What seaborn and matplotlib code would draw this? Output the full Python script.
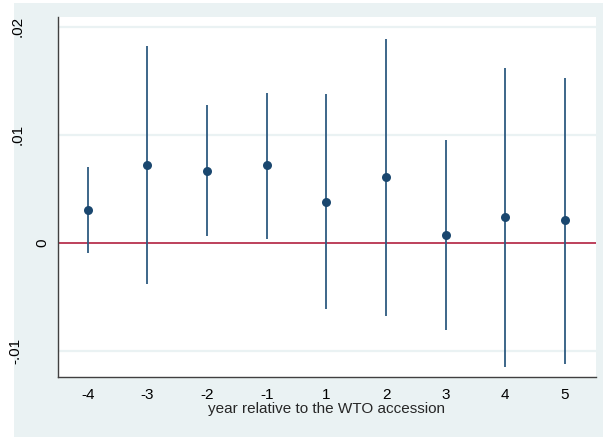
import matplotlib
matplotlib.use("Agg")
import matplotlib.pyplot as plt
import matplotlib.transforms as mtransforms
from matplotlib.patches import Rectangle
import seaborn as sns
import pandas as pd
import numpy as np

years = ["-4", "-3", "-2", "-1", "1", "2", "3", "4", "5"]
coef = [0.00303, 0.0072, 0.00667, 0.0072, 0.0038, 0.00605, 0.00068, 0.00234, 0.0021]
ci_low = [-0.00096, -0.0038, 0.00058, 0.00037, -0.00614, -0.00682, -0.0081, -0.01154, -0.01123]
ci_high = [0.00697, 0.01818, 0.01278, 0.01386, 0.01377, 0.01886, 0.00951, 0.01617, 0.01528]
yticks = [-0.01, 0, 0.01, 0.02]
ytick_labels = ["-.01", "0", ".01", ".02"]
xlabel = "year relative to the WTO accession"

# layout only: baseline x (pixels) of each rotated y tick label
ylabel_baseline_px = [19.5, 46, 22, 22]

df = pd.DataFrame({"year": years, "coef": coef, "lo": ci_low, "hi": ci_high})

sns.set_style("white")
plt.rcParams["font.family"] = ["Liberation Sans", "DejaVu Sans"]

W, H = 603, 437
bg = "#EAF2F3"
fig = plt.figure(figsize=(W / 100, H / 100), dpi=100, facecolor="white")
bgrect = Rectangle((14 / W, 0), 1 - 14 / W, 1 - 2.5 / H,
                   transform=fig.transFigure, facecolor=bg,
                   edgecolor="none", zorder=-10)
fig.patches.append(bgrect)
ax = fig.add_axes([58 / W, 60 / H, (596 - 58) / W, (377 - 17) / H])
ax.set_zorder(1)
ax.set_facecolor("white")

pos = np.arange(len(years))
ax.axhline(0, color="#B8324E", lw=1.3, zorder=2)
ax.vlines(pos, df["lo"], df["hi"], color="#2D5A80", lw=1.3, zorder=3)
sns.scatterplot(data=df, x="year", y="coef", ax=ax, s=42, color="#1A476F",
                edgecolor="#1A476F", linewidth=0, zorder=4, legend=False)

ax.set_xlim(-0.5, 8.52)
ax.set_ylim(-0.01244, 0.0209)
ax.set_yticks(yticks)
ax.set_yticklabels([])
ax.set_xticks(pos)
ax.set_xticklabels(years)
for y in yticks:
    if y != 0:
        ax.axhline(y, color=bg, lw=1.6, zorder=1)

trans = mtransforms.blended_transform_factory(fig.transFigure, ax.transData)
for y, lab, bx in zip(yticks, ytick_labels, ylabel_baseline_px):
    ax.text(bx / W, y, lab, transform=trans, rotation=90, rotation_mode="anchor",
            ha="center", va="baseline", fontsize=11, color="black", clip_on=False)

for s in ["top", "right"]:
    ax.spines[s].set_visible(False)
for s in ["left", "bottom"]:
    ax.spines[s].set_color("#404040")
    ax.spines[s].set_linewidth(1.0)
ax.tick_params(axis="both", which="major", length=5, width=1.0, color="#404040",
               labelsize=11, labelcolor="black", direction="out", pad=3)
ax.set_xlabel(xlabel, fontsize=11, labelpad=0)
ax.set_ylabel("")

fig.savefig("out.png", dpi=100, facecolor="white")
